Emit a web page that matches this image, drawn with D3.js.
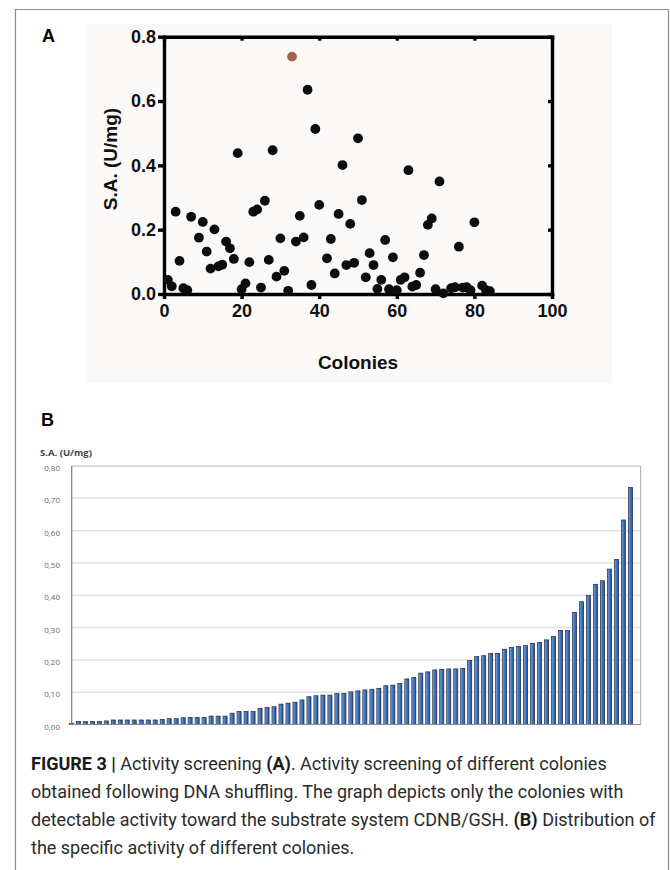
<!DOCTYPE html>
<html>
<head>
<meta charset="utf-8">
<script src="https://cdn.jsdelivr.net/npm/d3@7"></script>
<style>
body { margin: 0; background: #fff; }
svg { display: block; }
</style>
</head>
<body>
<svg id="fig" width="670" height="870"></svg>
<script>
//Panel A: colony number and its specific activity (U/mg)
var colonies = [1,2,3,4,5,6,7,9,10,11,12,13,14,15,16,17,18,19,20,21,22,23,24,25,26,27,28,29,30,31,32,33,34,35,36,37,38,39,40,
    42,43,44,45,46,47,48,49,50,51,52,53,54,55,56,57,58,59,60,61,62,63,64,65,66,67,68,69,70,71,72,74,75,76,77,78,79,80,82,83,84];
var activity = [0.044,0.024,0.256,0.103,0.018,0.012,0.240,0.175,0.224,0.132,0.079,0.201,0.086,0.091,0.163,0.142,0.109,0.438,0.015,0.033,
    0.099,0.256,0.263,0.020,0.290,0.106,0.447,0.054,0.173,0.072,0.010,0.738,0.163,0.243,0.176,0.635,0.028,0.513,0.277,
    0.111,0.171,0.064,0.249,0.401,0.090,0.218,0.097,0.484,0.292,0.052,0.127,0.090,0.016,0.044,0.168,0.015,0.114,0.012,0.044,0.052,
    0.385,0.023,0.028,0.066,0.121,0.215,0.235,0.015,0.350,0.002,0.018,0.021,0.147,0.020,0.021,0.012,0.223,0.026,0.012,0.009];
var bestColony = 33;   //drawn in brown
var aTicksX = [0, 20, 40, 60, 80, 100];
var aTicksY = [0.0, 0.2, 0.4, 0.6, 0.8];

//Panel B: activities sorted from low to high
var sortedActivity = [0.004,0.009,0.009,0.009,0.009,0.011,0.014,0.014,0.014,0.014,0.014,0.014,0.014,0.016,0.018,0.018,0.021,0.022,0.022,0.022,
    0.026,0.026,0.026,0.035,0.040,0.040,0.040,0.050,0.053,0.055,0.063,0.066,0.069,0.076,0.086,0.089,0.091,
    0.091,0.096,0.096,0.101,0.104,0.107,0.109,0.112,0.120,0.122,0.127,0.141,0.146,0.159,0.163,0.169,0.171,0.172,0.172,0.174,
    0.198,0.210,0.213,0.220,0.220,0.233,0.238,0.241,0.244,0.251,0.254,0.262,0.272,0.291,0.291,0.347,0.380,0.399,0.434,0.445,
    0.481,0.511,0.633,0.733];
var bTicksY = [0, 0.1, 0.2, 0.3, 0.4, 0.5, 0.6, 0.7, 0.8];

var svg = d3.select("#fig");

//Outer figure frame (open at the bottom)
svg.append("path")
    .attr("d", "M15.5,900V9.5H668.5V900")
    .attr("fill", "none")
    .attr("stroke", "#8c8c8c")
    .attr("stroke-width", 1.2);

// ---------- Panel A ----------
svg.append("rect")
    .attr("x", 86).attr("y", 24)
    .attr("width", 526).attr("height", 359)
    .attr("fill", "#fbf8f8");

svg.append("text")
    .attr("x", 42).attr("y", 41.5)
    .style("font", "bold 18px 'Liberation Sans', Arial, sans-serif")
    .text("A");

var xA = d3.scaleLinear().domain([0, 100]).range([164, 552]);
var yA = d3.scaleLinear().domain([0, 0.8]).range([294, 36.7]);

var boldFont = "bold 18px 'Liberation Sans', Arial, sans-serif";

function styleAxis(g, showText) {
    g.selectAll("path, line").attr("stroke", "#000").attr("stroke-width", 3.4);
    g.select(".domain").attr("stroke-linecap", "square");
    g.selectAll("text")
        .attr("fill", "#111")
        .style("font", boldFont)
        .style("display", showText ? null : "none");
}

svg.append("g")
    .attr("transform", "translate(0,294)")
    .call(d3.axisBottom(xA).tickValues(aTicksX).tickSize(5).tickSizeOuter(0).tickPadding(5)
        .tickFormat(d3.format("d")))
    .call(styleAxis, true);

svg.append("g")
    .attr("transform", "translate(164,0)")
    .call(d3.axisLeft(yA).tickValues(aTicksY).tickSize(6).tickSizeOuter(0).tickPadding(2)
        .tickFormat(d3.format(".1f")))
    .call(styleAxis, true);

//Mirrored frame at top and right, ticks pointing inward
svg.append("g")
    .attr("transform", "translate(0,36.7)")
    .call(d3.axisBottom(xA).tickValues(aTicksX).tickSize(4).tickSizeOuter(0))
    .call(styleAxis, false);

svg.append("g")
    .attr("transform", "translate(552,0)")
    .call(d3.axisLeft(yA).tickValues(aTicksY).tickSize(4).tickSizeOuter(0))
    .call(styleAxis, false);

svg.append("text")
    .attr("transform", "translate(116.5,159) rotate(-90)")
    .attr("text-anchor", "middle")
    .attr("fill", "#111")
    .style("font", "bold 19px 'Liberation Sans', Arial, sans-serif")
    .text("S.A. (U/mg)");

svg.append("text")
    .attr("x", 358).attr("y", 369)
    .attr("text-anchor", "middle")
    .attr("fill", "#111")
    .style("font", "bold 19px 'Liberation Sans', Arial, sans-serif")
    .text("Colonies");

svg.append("g").selectAll("circle")
    .data(colonies)
    .enter()
    .append("circle")
    .attr("cx", function(d) { return xA(d); })
    .attr("cy", function(d, i) { return yA(activity[i]); })
    .attr("r", 4.9)
    .attr("fill", function(d) { return d === bestColony ? "#a5634f" : "#0d0d0d"; });

// ---------- Panel B ----------
svg.append("text")
    .attr("x", 41).attr("y", 425.5)
    .style("font", "bold 18px 'Liberation Sans', Arial, sans-serif")
    .text("B");

svg.append("text")
    .attr("x", 40).attr("y", 456)
    .attr("fill", "#444")
    .style("font", "bold 9.5px 'Open Sans', sans-serif")
    .text("S.A. (U/mg)");

var left = 71.7, right = 640.7;
var yB = d3.scaleLinear().domain([0, 0.8]).range([724.5, 466]);
var xB = d3.scaleBand()
    .domain(d3.range(sortedActivity.length))
    .range([69.3, 632.5])
    .paddingInner(0.42)
    .paddingOuter(0);

//gridlines
svg.append("g").selectAll("line")
    .data(bTicksY.slice(1))
    .enter()
    .append("line")
    .attr("x1", left).attr("x2", right)
    .attr("y1", function(d) { return yB(d); })
    .attr("y2", function(d) { return yB(d); })
    .attr("stroke", function(d) { return d === 0.8 ? "#cfcfcf" : "#e2e2e2"; })
    .attr("stroke-width", 1.5);

svg.append("line")
    .attr("x1", right).attr("x2", right)
    .attr("y1", yB(0.8)).attr("y2", yB(0))
    .attr("stroke", "#a8a8a8").attr("stroke-width", 1);

var defs = svg.append("defs");
var grad = defs.append("linearGradient").attr("id", "barGrad")
    .attr("x1", "0%").attr("x2", "100%").attr("y1", "0%").attr("y2", "0%");
grad.append("stop").attr("offset", "0%").attr("stop-color", "#7fa8e4");
grad.append("stop").attr("offset", "40%").attr("stop-color", "#4a7cc9");
grad.append("stop").attr("offset", "100%").attr("stop-color", "#24508f");

svg.append("g").selectAll("rect")
    .data(sortedActivity)
    .enter()
    .append("rect")
    .attr("x", function(d, i) { return xB(i); })
    .attr("y", function(d) { return yB(d); })
    .attr("width", xB.bandwidth())
    .attr("height", function(d) { return yB(0) - yB(d); })
    .attr("fill", "url(#barGrad)")
    .attr("stroke", "#1b2942")
    .attr("stroke-width", 0.7);

//axes lines
svg.append("line")
    .attr("x1", left).attr("x2", left)
    .attr("y1", yB(0.8)).attr("y2", yB(0))
    .attr("stroke", "#7a7a7a").attr("stroke-width", 1.2);
svg.append("line")
    .attr("x1", left - 3).attr("x2", right)
    .attr("y1", yB(0)).attr("y2", yB(0))
    .attr("stroke", "#8a8a8a").attr("stroke-width", 1.2);

svg.append("g").selectAll("text")
    .data(bTicksY)
    .enter()
    .append("text")
    .attr("x", 60)
    .attr("y", function(d) { return yB(d) + 5; })
    .attr("text-anchor", "end")
    .attr("fill", "#6a6a6a")
    .style("font", "8px 'Open Sans', sans-serif")
    .text(function(d) { return d3.format(".2f")(d).replace(".", ","); });

// ---------- Caption ----------
var capLines = [
    [["FIGURE 3 |", true], [" Activity screening ", false], ["(A)", true], [". Activity screening of different colonies", false]],
    [["obtained following DNA shuffling. The graph depicts only the colonies with", false]],
    [["detectable activity toward the substrate system CDNB/GSH. ", false], ["(B)", true], [" Distribution of", false]],
    [["the specific activity of different colonies.", false]]
];

var cap = svg.append("g");
capLines.forEach(function(line, i) {
    var t = cap.append("text")
        .attr("x", 31)
        .attr("y", 770 + i * 28)
        .attr("fill", "#2b2b2b")
        .style("font", "18px 'Liberation Sans Narrow', 'Roboto', sans-serif");
    line.forEach(function(part) {
        t.append("tspan")
            .style("font-weight", part[1] ? "bold" : "normal")
            .attr("fill", part[1] ? "#1a1a1a" : "#2b2b2b")
            .text(part[0]);
    });
});
</script>
</body>
</html>
